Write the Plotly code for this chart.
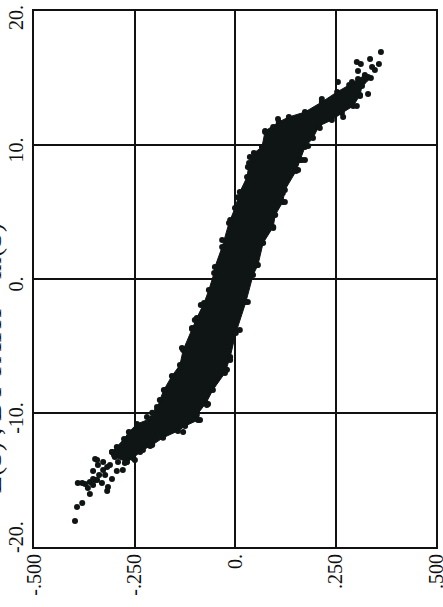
import plotly.graph_objects as go

# Band outline (x value, y value)
left_x = [-.306,-.294,-.276,-.264,-.244,-.206,-.194,-.187,-.177,-.157,-.137,-.129,-.107,-.095,-.077,-.065,-.052,-.050,-.032,-.015,0,.012,.030,.035,.047,.067,.075,.109,.134,.174,.216,.254,.284,.306,.323]
left_y = [-12.91,-12.54,-11.94,-11.42,-10.82,-10.37,-9.78,-9.03,-8.28,-7.24,-6.42,-5.30,-3.66,-2.91,-1.79,-.82,.45,.90,2.39,4.18,5.30,6.49,7.61,8.66,9.40,9.85,11.04,11.72,12.09,12.46,13.21,13.96,14.48,14.93,15.22]
right_x = [.338,.316,.311,.294,.266,.241,.209,.194,.174,.162,.152,.124,.119,.100,.095,.070,.057,.045,.027,.002,-.012,-.025,-.055,-.072,-.095,-.092,-.124,-.142,-.179,-.206,-.229,-.254,-.269,-.299]
right_y = [15.0,14.40,13.73,12.91,12.39,11.87,11.42,10.52,9.85,8.88,8.06,6.64,5.75,4.78,3.88,2.69,1.04,.30,-1.72,-4.03,-5.82,-7.01,-8.28,-9.25,-10.15,-10.52,-10.97,-11.34,-11.85,-12.39,-12.76,-13.36,-13.66,-13.28]

# Separate points read from the two tails and the band's rough edge
upper_x = [.363,.336,.303,.313,.358,.341,.348,.306,.331,.311,.256,.216,.107,.075,.037,.032,.303,.182]
upper_y = [16.94,16.42,16.19,16.04,16.04,15.82,15.6,15.52,13.81,13.66,14.7,13.43,11.94,10.97,9.10,8.36,12.91,9.93]
lower_x = [-.398,-.393,-.380,-.361,-.391,-.380,-.373,-.361,-.366,-.353,-.348,-.331,-.316,-.318,-.306,-.353,-.348,-.338,-.341,-.328,-.318,-.311,-.328,-.294,-.279,-.274,-.291,-.219,-.301,-.323,-.343,-.353,-.067]
lower_y = [-18.06,-17.01,-16.72,-16.04,-15.22,-15.22,-15.30,-15.15,-15.60,-15.37,-15.0,-15.22,-15.52,-15.82,-14.93,-14.33,-13.43,-14.63,-13.88,-13.66,-14.03,-13.88,-14.25,-14.33,-14.25,-13.73,-13.66,-10.30,-13.13,-14.63,-15.0,-14.93,-9.33]
edge_x = [.174,.157,.124,.095,.055,-.012,-.032,.007,-.154,-.174,-.194,-.132,-.107,-.100,-.085,-.070,-.012,-.020,.012,.032,-.206,-.087,-.129,-.211,-.236,-.249,-.269,-.266,-.343,.095,.291,.318,.331,.269,.211,.167,.119]
edge_y = [8.88,8.13,5.75,3.81,1.04,4.40,2.91,6.11,-7.31,-8.28,-9.55,-5.15,-3.73,-3.06,-1.94,-9.40,-6.04,-6.78,-3.81,-1.72,-9.99,-10.52,-11.42,-12.46,-12.91,-13.51,-13.66,-13.13,-13.51,11.34,14.70,14.70,15.07,12.09,11.27,8.88,6.42]

x_ticks = [-.5,-.25,0,.25,.5]
x_labels = ["-.500","-.250","0.",".250",".500"]
y_ticks = [-20,-10,0,10,20]
y_labels = ["","-10.","0.","10.",""]
y_end_labels = ["-20.","20."]
y_title = "= E(S) , BY PATH + ln(S)"

INK = "#0f1414"
SERIF = "Liberation Serif"

fig = go.Figure()
fig.add_trace(go.Scatter(
    x=left_x + right_x + left_x[:1], y=left_y + right_y + left_y[:1],
    mode="lines+markers", fill="toself", fillcolor=INK,
    line=dict(color=INK, width=1), marker=dict(color=INK, size=6), showlegend=False))
fig.add_trace(go.Scatter(
    x=upper_x + lower_x + edge_x, y=upper_y + lower_y + edge_y, mode="markers",
    marker=dict(color=INK, size=6), showlegend=False))

axis = dict(automargin=False, showgrid=True, gridcolor="#111", gridwidth=1.6, zeroline=False,
            showline=True, linecolor="#111", linewidth=2, mirror=True,
            ticks="outside", tickcolor="rgba(0,0,0,0)", tickangle=-90,
            ticklabeloverflow="allow",
            tickfont=dict(family=SERIF, size=20, color="#111"))
fig.update_xaxes(range=[-.5,.5], tickvals=x_ticks, ticktext=x_labels, ticklen=0, ticklabelstandoff=-3, **axis)
fig.update_yaxes(range=[-20,20], tickvals=y_ticks, ticktext=y_labels, ticklen=1, ticklabelshift=8, **axis)

fig.add_annotation(text=y_end_labels[0], xref="paper", yref="y", x=0, y=-20, xanchor="center", yanchor="middle", xshift=-18, yshift=10,
                   textangle=-90, showarrow=False, font=dict(family=SERIF, size=20, color="#111"))
fig.add_annotation(text=y_end_labels[1], xref="paper", yref="y", x=0, y=20, xanchor="center", yanchor="middle", xshift=-18, yshift=-7,
                   textangle=-90, showarrow=False, font=dict(family=SERIF, size=20, color="#111"))
fig.add_annotation(text=y_title, xref="paper", yref="paper", x=0, y=.33, xanchor="center", yanchor="middle", xshift=-43,
                   textangle=-90, showarrow=False, font=dict(family=SERIF, size=28, color="#111"))

fig.update_layout(width=443, height=607, margin=dict(l=34, r=7, t=11, b=60),
                  plot_bgcolor="white", paper_bgcolor="white", showlegend=False)
fig.write_html("out.html", post_script="document.body.style.margin='0';",
               config=dict(displayModeBar=False))
